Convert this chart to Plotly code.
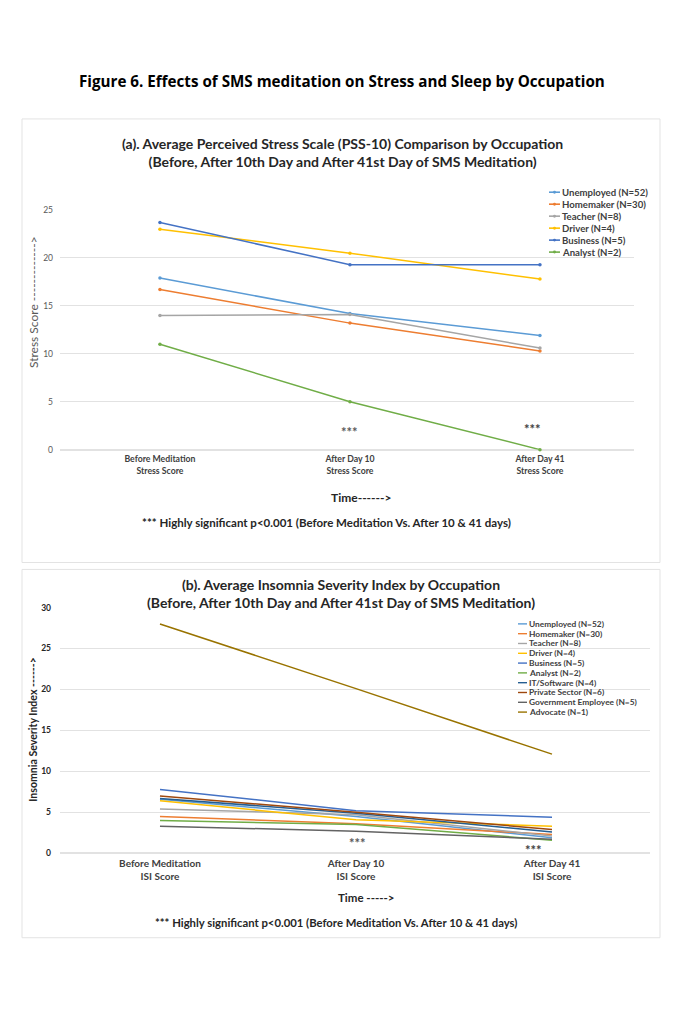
import plotly.graph_objects as go

# ---------------- DATA ----------------
stress_categories = ["Before Meditation<br>Stress Score", "After Day 10<br>Stress Score", "After Day 41<br>Stress Score"]
stress_names = ["Unemployed (N=52)", "Homemaker (N=30)", "Teacher (N=8)", "Driver (N=4)", "Business (N=5)", "Analyst (N=2)"]
stress_unemployed = [17.9, 14.2, 11.9]
stress_homemaker = [16.7, 13.2, 10.3]
stress_teacher = [14.0, 14.1, 10.6]
stress_driver = [23.0, 20.5, 17.8]
stress_business = [23.7, 19.3, 19.3]
stress_analyst = [11.0, 5.0, 0.0]

isi_categories = ["Before Meditation<br>ISI Score", "After Day 10<br>ISI Score", "After Day 41<br>ISI Score"]
isi_names = ["Unemployed (N=52)", "Homemaker (N=30)", "Teacher (N=8)", "Driver (N=4)", "Business (N=5)",
             "Analyst (N=2)", "IT/Software (N=4)", "Private Sector (N=6)", "Government Employee (N=5)", "Advocate (N=1)"]
isi_unemployed = [6.6, 4.5, 1.9]
isi_homemaker = [4.5, 3.6, 2.3]
isi_teacher = [5.4, 4.7, 2.1]
isi_driver = [6.4, 4.1, 3.3]
isi_business = [7.8, 5.2, 4.4]
isi_analyst = [4.0, 3.5, 1.6]
isi_it = [6.7, 4.9, 2.6]
isi_private = [7.0, 5.0, 2.9]
isi_government = [3.3, 2.7, 1.7]
isi_advocate = [28.0, 20.1, 12.1]

colors = ["#5B9BD5", "#ED7D31", "#A5A5A5", "#FFC000", "#4472C4", "#70AD47",
          "#255E91", "#9E480E", "#636363", "#997300"]

stress_series = [stress_unemployed, stress_homemaker, stress_teacher, stress_driver, stress_business, stress_analyst]
isi_series = [isi_unemployed, isi_homemaker, isi_teacher, isi_driver, isi_business, isi_analyst,
              isi_it, isi_private, isi_government, isi_advocate]

# ---------------- LAYOUT HELPERS ----------------
OFF = 8  # page body margin
W, H = 682 - 2 * OFF, 1024 - 2 * OFF
FONT = "Lato"
def px(x):
    return (x - OFF) / W
def py(y):
    return 1 - (y - OFF) / H

fig = go.Figure()

for name, vals, c in zip(stress_names, stress_series, colors):
    fig.add_trace(go.Scatter(x=stress_categories, y=vals, name=name, mode="lines+markers",
                             line=dict(color=c, width=1.5), marker=dict(color=c, size=3.5),
                             xaxis="x", yaxis="y", showlegend=False, cliponaxis=False))

for name, vals, c in zip(isi_names, isi_series, colors):
    fig.add_trace(go.Scatter(x=isi_categories, y=vals, name=name, mode="lines",
                             line=dict(color=c, width=1.5),
                             xaxis="x2", yaxis="y2", showlegend=False, cliponaxis=False))

shapes = []
annotations = []

# panel boxes
shapes.append(dict(type="rect", xref="paper", yref="paper", x0=px(22), x1=px(660), y0=py(563), y1=py(115),
                   line=dict(color="#E3E3E3", width=1), fillcolor="rgba(0,0,0,0)", layer="below"))
shapes.append(dict(type="rect", xref="paper", yref="paper", x0=px(22), x1=px(660), y0=py(942), y1=py(570),
                   line=dict(color="#E3E3E3", width=1), fillcolor="rgba(0,0,0,0)", layer="below"))

# manual legends
for i, (name, c) in enumerate(zip(stress_names, colors)):
    yy = 189 + i * 12.1
    shapes.append(dict(type="line", xref="paper", yref="paper", x0=px(549), x1=px(560), y0=py(yy), y1=py(yy),
                       line=dict(color=c, width=1.6)))
    shapes.append(dict(type="circle", xref="paper", yref="paper", x0=px(553), x1=px(556),
                       y0=py(yy + 1.5), y1=py(yy - 1.5), line=dict(color=c, width=0), fillcolor=c))
    annotations.append(dict(xref="paper", yref="paper", x=px(560), y=py(yy), text="<b>" + name + "</b>",
                            showarrow=False, xanchor="left", yanchor="middle",
                            font=dict(family=FONT, size=9.6, color="#404040")))

for i, (name, c) in enumerate(zip(isi_names, colors)):
    yy = 625 + i * 9.9
    shapes.append(dict(type="line", xref="paper", yref="paper", x0=px(518), x1=px(527), y0=py(yy), y1=py(yy),
                       line=dict(color=c, width=1.4)))
    annotations.append(dict(xref="paper", yref="paper", x=px(526.5), y=py(yy), text="<b>" + name + "</b>",
                            showarrow=False, xanchor="left", yanchor="middle",
                            font=dict(family=FONT, size=8.4, color="#404040")))

# titles and notes
annotations += [
    dict(xref="paper", yref="paper", x=px(342), y=py(77),
         text="<b>Figure 6. Effects of SMS meditation on Stress and Sleep by Occupation</b>",
         showarrow=False, xanchor="center", yanchor="middle",
         font=dict(family="Open Sans", size=15.2, color="#000000")),
    dict(xref="paper", yref="paper", x=px(342), y=py(149),
         text="<b>(a). Average Perceived Stress Scale (PSS-10) Comparison by Occupation<br>(Before, After 10th Day and After 41st Day of SMS Meditation)</b>",
         showarrow=False, xanchor="center", yanchor="middle",
         font=dict(family=FONT, size=14, color="#262626")),
    dict(xref="paper", yref="paper", x=px(33), y=py(300), text="Stress Score ------------->",
         textangle=-90, showarrow=False, xanchor="center", yanchor="middle",
         font=dict(family=FONT, size=12, color="#595959")),
    dict(xref="paper", yref="paper", x=px(361), y=py(497), text="<b>Time------></b>",
         showarrow=False, xanchor="center", yanchor="middle",
         font=dict(family=FONT, size=12, color="#262626")),
    dict(xref="paper", yref="paper", x=px(326), y=py(523),
         text="<b>*** Highly significant p<0.001 (Before Meditation Vs. After 10 & 41 days)</b>",
         showarrow=False, xanchor="center", yanchor="middle",
         font=dict(family=FONT, size=11.5, color="#262626")),
    dict(xref="paper", yref="paper", x=px(341), y=py(594),
         text="<b>(b). Average Insomnia Severity Index by Occupation<br>(Before, After 10th Day and After 41st Day of SMS Meditation)</b>",
         showarrow=False, xanchor="center", yanchor="middle",
         font=dict(family=FONT, size=14, color="#262626")),
    dict(xref="paper", yref="paper", x=px(33), y=py(732), text="<b>Insomnia Severity Index ------></b>",
         textangle=-90, showarrow=False, xanchor="center", yanchor="middle",
         font=dict(family=FONT, size=10.6, color="#262626")),
    dict(xref="paper", yref="paper", x=px(366), y=py(901), text="<b>Time -----></b>",
         showarrow=False, xanchor="center", yanchor="middle",
         font=dict(family=FONT, size=11.5, color="#262626")),
    dict(xref="paper", yref="paper", x=px(336), y=py(927),
         text="<b>*** Highly significant p<0.001 (Before Meditation Vs. After 10 & 41 days)</b>",
         showarrow=False, xanchor="center", yanchor="middle",
         font=dict(family=FONT, size=11.3, color="#262626")),
    # significance stars
    dict(xref="x", yref="y", x=stress_categories[1], y=1.8, text="<b>***</b>", showarrow=False,
         font=dict(family=FONT, size=13, color="#595959")),
    dict(xref="x", yref="y", x=stress_categories[2], y=2.2, text="<b>***</b>", showarrow=False, xshift=-7,
         font=dict(family=FONT, size=13, color="#404040")),
    dict(xref="x2", yref="y2", x=isi_categories[1], y=1.3, text="<b>***</b>", showarrow=False, xshift=2,
         font=dict(family=FONT, size=13, color="#595959")),
    dict(xref="x2", yref="y2", x=isi_categories[2], y=0.45, text="<b>***</b>", showarrow=False, xshift=-18,
         font=dict(family=FONT, size=13, color="#404040")),
]

grid = "#E2E2E2"
fig.update_layout(
    width=W, height=H,
    margin=dict(l=0, r=0, t=0, b=0),
    paper_bgcolor="white", plot_bgcolor="white",
    showlegend=False,
    shapes=shapes, annotations=annotations,
    xaxis=dict(domain=[px(60), px(634)], anchor="y", type="category", range=[-0.526, 2.495],
               showgrid=False, showline=False, zeroline=False, ticks="",
               tickfont=dict(family=FONT, size=8.7, color="#404040"), ticklabelstandoff=3,
               tickprefix="<b>", ticksuffix="</b>"),
    yaxis=dict(domain=[py(449), py(207)], anchor="x", range=[0, 25], dtick=5,
               showgrid=True, gridcolor=grid, gridwidth=1, zeroline=True, zerolinecolor=grid,
               showline=False, ticks="", tickfont=dict(family=FONT, size=8.5, color="#595959"),
               ticklabelstandoff=6),
    xaxis2=dict(domain=[px(60), px(650)], anchor="y2", type="category", range=[-0.51, 2.5],
                showgrid=False, showline=False, zeroline=False, ticks="",
                tickfont=dict(family=FONT, size=10, color="#404040"), ticklabelstandoff=3,
                tickprefix="<b>", ticksuffix="</b>"),
    yaxis2=dict(domain=[py(856.7), py(608.5)], anchor="x2", range=[0, 30], dtick=5,
                showgrid=True, gridcolor=grid, gridwidth=1, zeroline=True, zerolinecolor=grid,
                showline=False, ticks="", tickfont=dict(family=FONT, size=8.5, color="#262626"),
                tickprefix="<b>", ticksuffix="</b>", ticklabelstandoff=8),
)

fig.write_html("out.html")
